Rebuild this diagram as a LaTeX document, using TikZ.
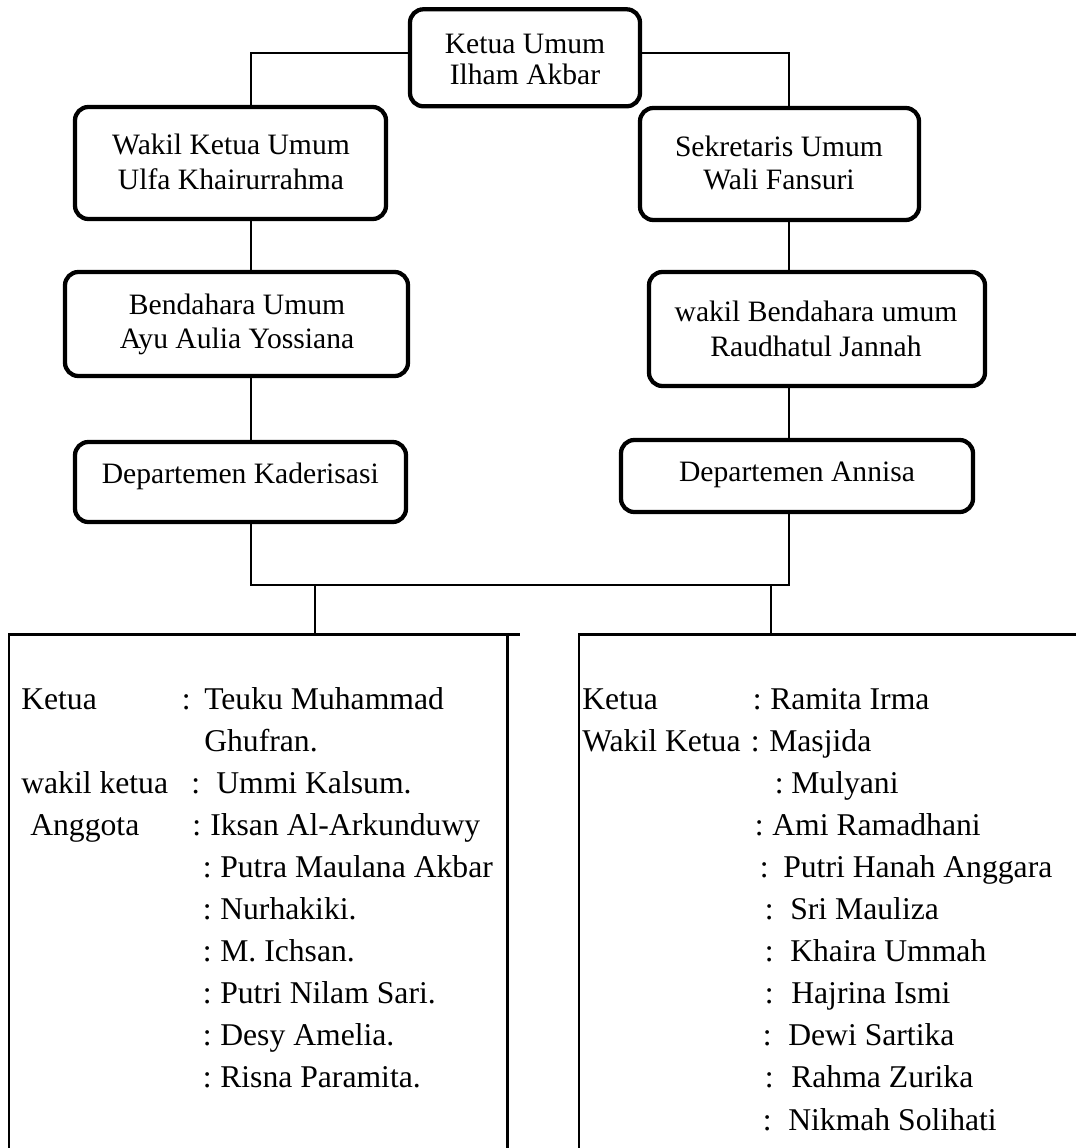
\documentclass[tikz,border=0pt]{standalone}
\usepackage{fontspec}
\setmainfont{Liberation Serif}
\begin{document}
\begin{tikzpicture}[x=0.75pt,y=-0.75pt,
  box/.style={draw, line width=3.2pt, rounded corners=10pt, inner sep=0pt},
  conn/.style={line width=1.5pt},
  frame/.style={line width=2pt},
  bt/.style={font=\fontsize{22.2}{26}\selectfont, anchor=base, inner sep=0pt},
  lt/.style={font=\fontsize{23.75}{28}\selectfont, anchor=base west, inner sep=0pt}]
\useasboundingbox (0,0) rectangle (1075,1148);

% boxes
\node[box, minimum width=172.5pt, minimum height=72.75pt] (top) at (525,57.8) {};
\node[box, minimum width=233.25pt, minimum height=84pt] (wakil) at (230.5,163) {};
\node[box, minimum width=209.25pt, minimum height=84pt] (sek) at (779.5,164) {};
\node[box, minimum width=257.25pt, minimum height=78pt] (bend) at (236.5,324) {};
\node[box, minimum width=252pt, minimum height=85.5pt] (wbend) at (817,329) {};
\node[box, minimum width=248.25pt, minimum height=60pt] (kad) at (240.5,482) {};
\node[box, minimum width=264pt, minimum height=54pt] (ann) at (797,476) {};

% box texts
\node[bt] (top1) at (525,53.3) {Ketua Umum};
\node[bt] (top2) at (525,85) {Ilham Akbar};
\node[bt] (wakil1) at (231,155) {Wakil Ketua Umum};
\node[bt] (wakil2) at (231,190) {Ulfa Khairurrahma};
\node[bt] (sek1) at (779,157) {Sekretaris Umum};
\node[bt] (sek2) at (779,190) {Wali Fansuri};
\node[bt] (bend1) at (237,314) {Bendahara Umum};
\node[bt] (bend2) at (237,348) {Ayu Aulia Yossiana};
\node[bt] (wbend1) at (816,321) {wakil Bendahara umum};
\node[bt] (wbend2) at (816,356) {Raudhatul Jannah};
\node[bt] (kad1) at (240.3,483) {Departemen Kaderisasi};
\node[bt] (ann1) at (797,481) {Departemen Annisa};

% list frames
\node[minimum width=373.5pt, minimum height=393.75pt, inner sep=0pt, anchor=north west] (lbox) at (9,634.7) {};
\node[minimum width=375.75pt, minimum height=393.75pt, inner sep=0pt, anchor=north west] (rbox) at (579,634.7) {};
\draw[frame] (lbox.south west) -- (lbox.north west) -- ([xshift=9pt]lbox.north east);
\draw[frame] (lbox.north east) -- (lbox.south east);
\draw[frame] (rbox.south west) -- (rbox.north west) -- (rbox.north east);

% helper coordinates
\coordinate (xl) at (251,0);
\coordinate (xr) at (789,0);
\coordinate (xa) at (315,0);
\coordinate (xb) at (771,0);
\coordinate (yt) at (0,53);
\coordinate (yb) at (0,585);

% connectors
\draw[conn] (top.west |- yt) -| (wakil.north -| xl);
\draw[conn] (top.east |- yt) -| (sek.north -| xr);
\draw[conn] (wakil.south -| xl) -- (bend.north -| xl);
\draw[conn] (bend.south -| xl) -- (kad.north -| xl);
\draw[conn] (sek.south -| xr) -- (wbend.north -| xr);
\draw[conn] (wbend.south -| xr) -- (ann.north -| xr);
\draw[conn] (kad.south -| xl) |- (yb -| xr) -- (ann.south -| xr);
\draw[conn] (yb -| xa) -- (lbox.north -| xa);
\draw[conn] (yb -| xb) -- (rbox.north -| xb);

% left list
\node[lt] (a0k) at (21,709) {Ketua};
\node[lt] (a0c) at (181.5,709) {:};
\node[lt] (a0n) at (204,709) {Teuku Muhammad};
\node[lt] (a1n) at (204,751.1) {Ghufran.};
\node[lt] (a2k) at (21,793.2) {wakil ketua};
\node[lt] (a2c) at (191,793.2) {:};
\node[lt] (a2n) at (216,793.2) {Ummi Kalsum.};
\node[lt] (a3k) at (30,835.3) {Anggota};
\node[lt] (a3c) at (192,835.3) {:};
\node[lt] (a3n) at (210,835.3) {Iksan Al-Arkunduwy};
\node[lt] (a4c) at (202.5,877.4) {:};
\node[lt] (a4n) at (220,877.4) {Putra Maulana Akbar};
\node[lt] (a5c) at (202.5,919.5) {:};
\node[lt] (a5n) at (220,919.5) {Nurhakiki.};
\node[lt] (a6c) at (202.5,961.6) {:};
\node[lt] (a6n) at (220,961.6) {M. Ichsan.};
\node[lt] (a7c) at (202.5,1003.7) {:};
\node[lt] (a7n) at (220,1003.7) {Putri Nilam Sari.};
\node[lt] (a8c) at (202.5,1045.8) {:};
\node[lt] (a8n) at (220,1045.8) {Desy Amelia.};
\node[lt] (a9c) at (202.5,1087.9) {:};
\node[lt] (a9n) at (220,1087.9) {Risna Paramita.};

% right list
\node[lt] (b0k) at (582,709) {Ketua};
\node[lt] (b0c) at (752.5,709) {:};
\node[lt] (b0n) at (770,709) {Ramita Irma};
\node[lt] (b1k) at (582,751.1) {Wakil Ketua};
\node[lt] (b1c) at (750.5,751.1) {:};
\node[lt] (b1n) at (769,751.1) {Masjida};
\node[lt] (b2c) at (774.5,793.2) {:};
\node[lt] (b2n) at (791,793.2) {Mulyani};
\node[lt] (b3c) at (754.5,835.3) {:};
\node[lt] (b3n) at (772,835.3) {Ami Ramadhani};
\node[lt] (b4c) at (759.5,877.4) {:};
\node[lt] (b4n) at (783,877.4) {Putri Hanah Anggara};
\node[lt] (b5c) at (764.5,919.5) {:};
\node[lt] (b5n) at (790,919.5) {Sri Mauliza};
\node[lt] (b6c) at (764.5,961.6) {:};
\node[lt] (b6n) at (790,961.6) {Khaira Ummah};
\node[lt] (b7c) at (764.5,1003.7) {:};
\node[lt] (b7n) at (791,1003.7) {Hajrina Ismi};
\node[lt] (b8c) at (762.5,1045.8) {:};
\node[lt] (b8n) at (788,1045.8) {Dewi Sartika};
\node[lt] (b9c) at (764.5,1087.9) {:};
\node[lt] (b9n) at (791,1087.9) {Rahma Zurika};
\node[lt] (b10c) at (762.5,1130) {:};
\node[lt] (b10n) at (788,1130) {Nikmah Solihati};
\end{tikzpicture}
\end{document}
